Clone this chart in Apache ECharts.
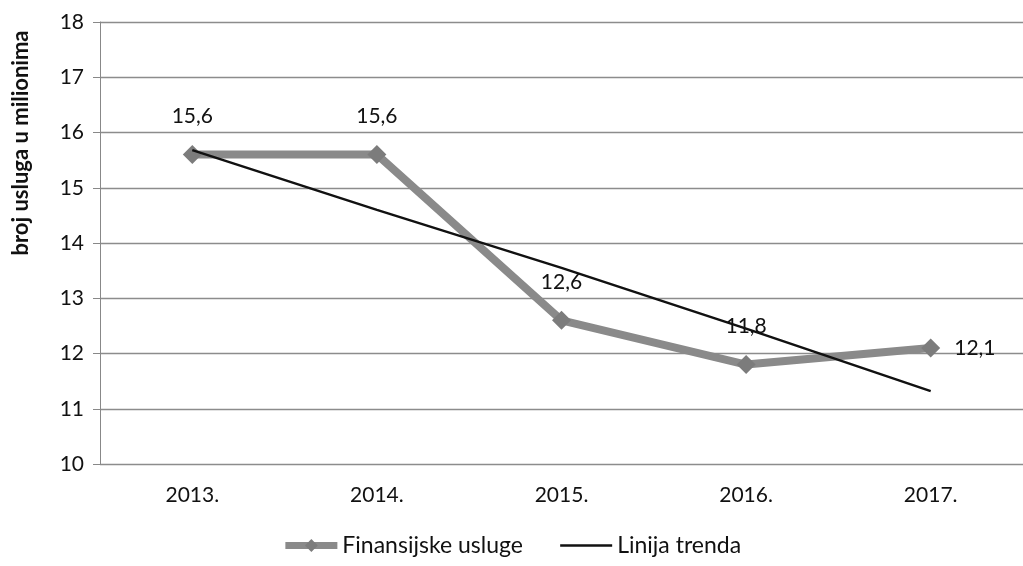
<!DOCTYPE html>
<html>
<head>
<meta charset="utf-8">
<script src="https://cdn.jsdelivr.net/npm/echarts@6/dist/echarts.min.js"></script>
<style>
  html, body { margin: 0; padding: 0; background: #fff; }
  #main { width: 1023px; height: 566px; }
</style>
</head>
<body>
<div id="main"></div>
<script>
// podaci
var years = ['2013.', '2014.', '2015.', '2016.', '2017.'];
var usluge = [15.6, 15.6, 12.6, 11.8, 12.1];
var trend = [15.68, 14.6, 13.55, 12.45, 11.32];
var yTicks = [10, 11, 12, 13, 14, 15, 16, 17, 18];

var font = 'Lato, "Open Sans", sans-serif';
var chart = echarts.init(document.getElementById('main'));

// zadnja tacka ima oznaku desno
var uslugeData = usluge.map(function (v, i) {
  if (i === usluge.length - 1) {
    return { value: v, label: { position: 'right', distance: 14 } };
  }
  return v;
});

chart.setOption({
  animation: false,
  backgroundColor: '#fff',
  grid: { left: 100, top: 22, width: 928, height: 442 },
  graphic: [{
    type: 'text',
    x: 21, y: 143,
    rotation: Math.PI / 2,
    style: {
      text: 'broj usluga u milionima',
      font: 'bold 22px ' + font,
      fill: '#111',
      align: 'center',
      verticalAlign: 'middle'
    }
  }],
  legend: {
    bottom: 4,
    left: 'center',
    itemGap: 36,
    itemWidth: 52,
    itemHeight: 16,
    textStyle: { fontFamily: font, fontSize: 23, color: '#111' },
    data: [
      { name: 'Finansijske usluge', lineStyle: { width: 7, color: '#8a8a8a' } },
      { name: 'Linija trenda', itemStyle: { opacity: 0 }, lineStyle: { width: 2.5, color: '#111' } }
    ]
  },
  xAxis: {
    type: 'category',
    data: years,
    boundaryGap: true,
    axisLine: { show: false },
    axisTick: { show: false },
    axisLabel: { fontFamily: font, fontSize: 21, color: '#111', margin: 21 }
  },
  yAxis: {
    type: 'value',
    min: yTicks[0],
    max: yTicks[yTicks.length - 1],
    interval: 1,
    axisLine: { show: true, lineStyle: { color: '#888', width: 1 } },
    axisTick: { show: true, length: 7, lineStyle: { color: '#888' } },
    splitLine: { lineStyle: { color: '#8c8c8c', width: 1.3 } },
    axisLabel: { fontFamily: font, fontSize: 21, color: '#111', margin: 16 }
  },
  series: [
    {
      name: 'Finansijske usluge',
      type: 'line',
      data: uslugeData,
      symbol: 'diamond',
      symbolSize: 19,
      lineStyle: { color: '#8a8a8a', width: 8 },
      itemStyle: { color: '#7c7c7c' },
      label: {
        show: true,
        position: 'top',
        distance: 18,
        fontFamily: font,
        fontSize: 21,
        color: '#111',
        formatter: function (p) { return String(p.value).replace('.', ','); }
      },
      z: 2
    },
    {
      name: 'Linija trenda',
      type: 'line',
      data: trend,
      symbol: 'none',
      lineStyle: { color: '#111', width: 2.5 },
      itemStyle: { color: '#111' },
      z: 3
    }
  ]
});
</script>
</body>
</html>
